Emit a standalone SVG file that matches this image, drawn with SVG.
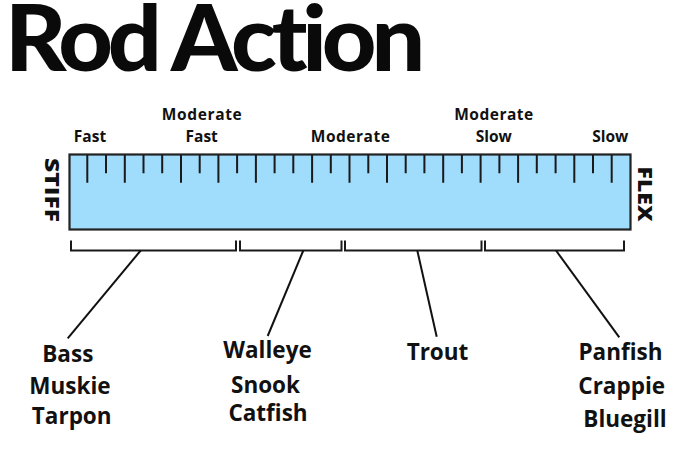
<svg xmlns="http://www.w3.org/2000/svg" width="700" height="466" viewBox="0 0 700 466">
<style>
.title{font-family:Lato,"Liberation Sans",sans-serif;font-weight:900;font-size:92px;fill:#0a0a0a;letter-spacing:-5px}
.lbl{font-family:"Open Sans","Liberation Sans",sans-serif;font-weight:700;font-size:15.5px;fill:#111;text-anchor:middle}
.fish{font-family:"Open Sans","Liberation Sans",sans-serif;font-weight:700;font-size:22.5px;fill:#111;text-anchor:middle}
.side{font-family:"Open Sans","Liberation Sans",sans-serif;font-weight:800;font-size:19px;fill:#111}
.tick{stroke:#1a1a1a;stroke-width:2;fill:none}
.br{stroke:#1a1a1a;stroke-width:2;fill:none}
.ln{stroke:#111;stroke-width:2;fill:none}
</style>
<rect width="700" height="466" fill="#ffffff"/>
<text class="title" x="5" y="70.5" textLength="415" lengthAdjust="spacingAndGlyphs">Rod Action</text>

<g id="labels">
<text class="lbl" x="90" y="141.5">Fast</text>
<text class="lbl" x="201.7" y="120" textLength="80">Moderate</text>
<text class="lbl" x="201.7" y="141.5">Fast</text>
<text class="lbl" x="350.3" y="141.5" textLength="79">Moderate</text>
<text class="lbl" x="493.7" y="120" textLength="79">Moderate</text>
<text class="lbl" x="493.7" y="141.5">Slow</text>
<text class="lbl" x="610.3" y="141.5">Slow</text>
</g>

<g id="ruler">
<rect x="69.5" y="154.5" width="561" height="75" fill="#a0dcfc" stroke="#222" stroke-width="2.2"/>
<path class="tick" d="M87.3 155V182.7M106 155V173.3M124.8 155V182.7M143.5 155V173.3M162.2 155V173.3M181 155V182.7M199.7 155V173.3M218.4 155V182.7M237.1 155V173.3M255.9 155V182.7M274.6 155V173.3M293.3 155V173.3M312.1 155V182.7M330.8 155V173.3M349.5 155V182.7M368.3 155V173.3M387 155V182.7M405.7 155V173.3M424.4 155V173.3M443.2 155V182.7M461.9 155V173.3M480.6 155V182.7M499.4 155V173.3M518.1 155V182.7M536.8 155V173.3M555.6 155V173.3M574.3 155V182.7M593 155V173.3M611.7 155V182.7"/>
</g>

<g id="stiff"><text class="side" transform="translate(44.5,158) rotate(90)" textLength="64" lengthAdjust="spacingAndGlyphs">STIFF</text></g>
<g id="flex"><text class="side" transform="translate(638,166.5) rotate(90)" textLength="55" lengthAdjust="spacingAndGlyphs">FLEX</text></g>

<g id="connectors">
<path class="br" d="M71 240.5V250.5H236V240.5"/>
<path class="br" d="M240 240.5V250.5H341.5V240.5"/>
<path class="br" d="M345 240.5V250.5H481.5V240.5"/>
<path class="br" d="M485 240.5V250.5H624V240.5"/>
<path class="ln" d="M140.7 250.5L67.7 338.3"/>
<path class="ln" d="M303.3 250.5L267.7 336"/>
<path class="ln" d="M417.3 250.5L436.7 336.7"/>
<path class="ln" d="M556 250.5L619.3 337.3"/>
</g>

<g id="fast-fish">
<text class="fish" x="67.8" y="361.7">Bass</text>
<text class="fish" x="70" y="394">Muskie</text>
<text class="fish" x="71.7" y="424">Tarpon</text>
</g>
<g id="modfast-fish">
<text class="fish" x="267.5" y="358.3">Walleye</text>
<text class="fish" x="265.5" y="392.7">Snook</text>
<text class="fish" x="268" y="420.7">Catfish</text>
</g>
<g id="moderate-fish">
<text class="fish" x="437.5" y="360">Trout</text>
</g>
<g id="slow-fish">
<text class="fish" x="620.5" y="360">Panfish</text>
<text class="fish" x="621.7" y="394">Crappie</text>
<text class="fish" x="625" y="427.3">Bluegill</text>
</g>
</svg>
